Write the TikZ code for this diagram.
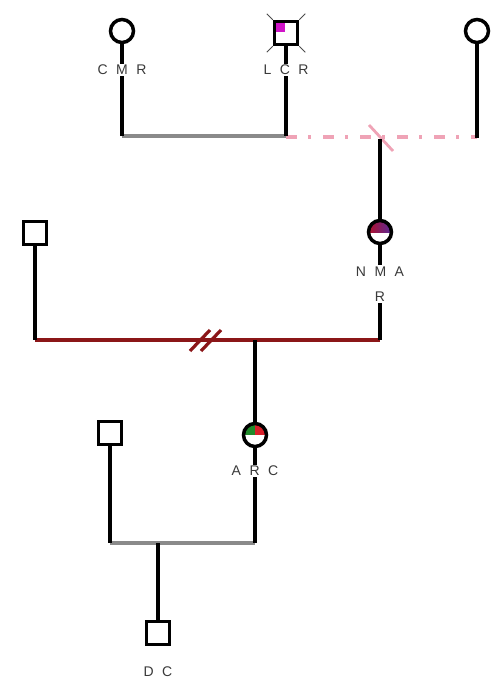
\documentclass[tikz,border=0pt]{standalone}
\usepackage{fontspec}
\setmainfont{Liberation Sans}
\definecolor{graycol}{HTML}{8A8A8A}
\definecolor{pinkcol}{HTML}{EFA3B6}
\definecolor{darkredcol}{HTML}{8B1618}
\definecolor{txtcol}{HTML}{3A3A3A}
\definecolor{nmL}{HTML}{B0102A}
\definecolor{nmR}{HTML}{5A2A9A}
\definecolor{arcG}{HTML}{1F8A2A}
\definecolor{arcR}{HTML}{D8202A}
\definecolor{lcrM}{HTML}{D014C8}
\newcommand{\ltrgap}{\hspace{8.5pt}}
\begin{document}
\begin{tikzpicture}[x=1pt,y=-1pt,
  ind/.style={draw=black,line width=3.5pt,fill=white,minimum size=23pt,inner sep=0pt},
  female/.style={ind,circle},
  male/.style={ind,rectangle},
  lbl/.style={font=\fontsize{14}{25}\selectfont,text=txtcol,fill=white,inner sep=1.5pt},
  stem/.style={line width=3.2pt,black},
  grayline/.style={line width=3.2pt,graycol},
  pinkline/.style={line width=3.2pt,pinkcol,dash pattern=on 11pt off 11pt on 3pt off 12pt},
  redline/.style={line width=3.2pt,darkredcol},
  tick/.style={line width=0.8pt,black!70}
]
\useasboundingbox (0,0) rectangle (491,688);

% individuals
\node[female] (cmr) at (122,31) {};
\node[male,path picture={\fill[lcrM] (path picture bounding box.north west) rectangle ++(10,10);}] (lcr) at (286,33) {};
\node[female] (rf) at (477,31) {};
\node[female,path picture={\shade[left color=nmL,right color=nmR] (path picture bounding box.north west) rectangle (path picture bounding box.east);}] (nmar) at (380,232) {};
\node[male] (ls) at (35,233) {};
\node[female,path picture={\fill[arcG] (path picture bounding box.north west) rectangle (path picture bounding box.center);
  \fill[arcR] (path picture bounding box.north east) rectangle (path picture bounding box.center);}] (arc) at (255,435) {};
\node[male] (bs) at (110,433) {};
\node[male] (dc) at (158,633) {};

% corner ticks of LCR
\draw[tick] (lcr.north west) -- ++(-6,-6);
\draw[tick] (lcr.north east) -- ++(6,-6);
\draw[tick] (lcr.south west) -- ++(-6,6);
\draw[tick] (lcr.south east) -- ++(6,6);

% junction coordinates
\coordinate (cmrF) at (122,136);
\coordinate (lcrF) at (286,136);
\coordinate (rfF) at (477,138);
\coordinate (c1) at (380,139);
\coordinate (nmarF) at (380,340);
\coordinate (lsF) at (35,340);
\coordinate (c2) at (255,340);
\coordinate (arcF) at (255,543);
\coordinate (bsF) at (110,543);
\coordinate (c3) at (158,543);

% couple lines
\draw[grayline] (cmrF) -- (lcrF);
\draw[pinkline] (286,137) -- (477,137);
\draw[line width=2.8pt,pinkcol] (369,125) -- (393,151);
\draw[redline] (lsF) -- (nmarF);
\draw[redline] (190,351) -- (210,330);
\draw[redline] (201,351) -- (221,330);
\draw[grayline] (bsF) -- (arcF);

% stems
\draw[stem] (cmr) -- (cmrF);
\draw[stem] (lcr) -- (lcrF);
\draw[stem] (rf) -- (rfF);
\draw[stem] (c1) -- (nmar);
\draw[stem] (nmar) -- (nmarF);
\draw[stem] (ls) -- (lsF);
\draw[stem] (c2) -- (arc);
\draw[stem] (arc) -- (arcF);
\draw[stem] (bs) -- (bsF);
\draw[stem] (c3) -- (dc);

% labels
\node[lbl] at (122,70) {C\ltrgap M\ltrgap R};
\node[lbl] at (286,70) {L\ltrgap C\ltrgap R};
\node[lbl,align=center] at (380,284) {N\ltrgap M\ltrgap A\\R};
\node[lbl] at (255,471) {A\ltrgap R\ltrgap C};
\node[lbl] at (158,672) {D\ltrgap C};
\end{tikzpicture}
\end{document}
